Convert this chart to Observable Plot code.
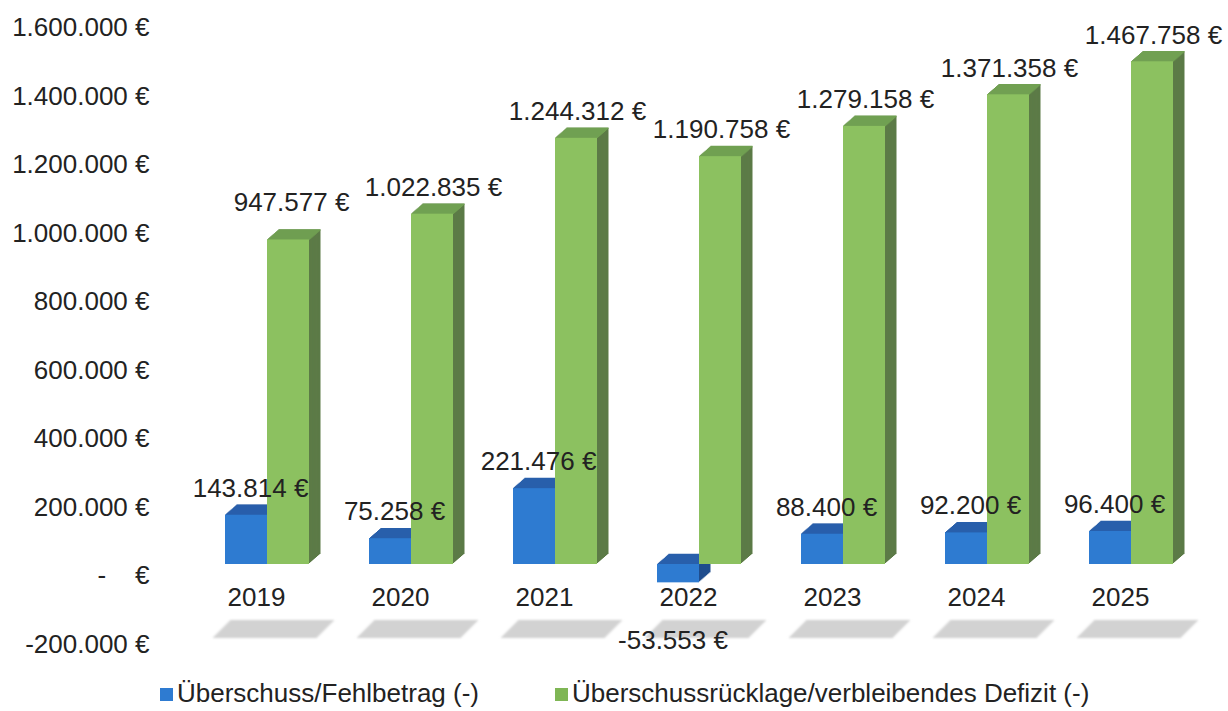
<!DOCTYPE html>
<html>
<head>
<meta charset="utf-8">
<script src="https://cdn.jsdelivr.net/npm/d3@7"></script>
<script src="https://cdn.jsdelivr.net/npm/@observablehq/plot@0.6"></script>
<style>
  body { margin: 0; background: #fff; }
  #wrap { position: relative; width: 1228px; height: 711px; font-family: "Liberation Sans", Arial, sans-serif; color: #222; }
  #chart svg g[aria-label="dot"] { filter: blur(1.2px); }
  .sw { position: absolute; width: 13px; height: 13px; }
  .lt { position: absolute; font-size: 26px; line-height: 30px; white-space: nowrap; color: #222; }
</style>
</head>
<body>
<div id="wrap">
  <div id="chart"></div>
  <span class="sw" style="left:160px;top:688px;background:#2e7bd1"></span>
  <span class="lt" style="left:177px;top:678px">Überschuss/Fehlbetrag (-)</span>
  <span class="sw" style="left:555px;top:688px;background:#7fb655"></span>
  <span class="lt" style="left:572px;top:678px">Überschussrücklage/verbleibendes Defizit (-)</span>
</div>
<script>
const years = ["2019", "2020", "2021", "2022", "2023", "2024", "2025"];
const ueberschuss = [143814, 75258, 221476, -53553, 88400, 92200, 96400];
const ruecklage = [947577, 1022835, 1244312, 1190758, 1279158, 1371358, 1467758];
const yTicks = [-200000, 0, 200000, 400000, 600000, 800000, 1000000, 1200000, 1400000, 1600000];

const blueData = years.map((year, i) => ({year, value: ueberschuss[i], i}));
const greenData = years.map((year, i) => ({year, value: ruecklage[i], i}));

const locale = d3.formatLocale({decimal: ",", thousands: ".", grouping: [3], currency: ["", " €"], minus: "-"});
const num = locale.format(",.0f");
const euro = v => num(v) + " €";
const axisFmt = v => v === 0 ? "-\u00a0\u00a0\u00a0\u00a0€" : euro(v);

const DEPTH = 10, SX = 1.15, SY = 1;
const HALF = 21;

function bar3d(data, off, front, top, side) {
  const marks = [];
  for (let k = DEPTH; k >= 1; k--) {
    marks.push(Plot.barY(data, {x: "year", y: "value", fill: side, dx: off + SX * k, dy: -SY * k}));
  }
  for (let k = DEPTH; k >= 0; k--) {
    marks.push(Plot.tickY(data, {x: "year", y: d => Math.max(0, d.value), stroke: top, strokeWidth: 1.6, dx: off + SX * k, dy: -SY * k}));
  }
  marks.push(Plot.barY(data, {x: "year", y: "value", fill: front, dx: off}));
  return marks;
}

const shadow = {
  draw(ctx) {
    ctx.moveTo(-42, -9);
    ctx.lineTo(62, -9);
    ctx.lineTo(44, 9);
    ctx.lineTo(-60, 9);
    ctx.closePath();
  }
};

const chart = Plot.plot({
  width: 1228,
  height: 670,
  marginTop: 16,
  marginBottom: 37.5,
  marginLeft: 192.75,
  marginRight: 23.75,
  style: {fontFamily: '"Liberation Sans", Arial, sans-serif', fontSize: "26px", color: "#222", background: "#fff"},
  x: {type: "band", domain: years, paddingInner: 0.7093, paddingOuter: 0.3547, axis: null},
  y: {domain: [-200000, 1600000], axis: null},
  marks: [
    Plot.dot(years, {x: d => d, frameAnchor: "bottom", dy: -4, dx: 5, symbol: shadow, fill: "#d2d2d2", stroke: "none"}),
    ...bar3d(blueData, -HALF, "#2e7bd1", "#285fab", "#1f4d8d"),
    ...bar3d(greenData, HALF, "#8cc160", "#71a052", "#5c7b47"),
    Plot.axisY({ticks: yTicks, tickFormat: axisFmt, tickSize: 0, tickPadding: 43.75, dy: 11.5, fill: "#222", label: null}),
    Plot.text(years, {x: d => d, text: d => d, frameAnchor: "bottom", dy: -27.5, dx: -11, fill: "#222"}),
    Plot.text(blueData.filter(d => d.value >= 0), {x: "year", y: "value", text: d => euro(d.value), dx: -HALF + 4, dy: -27, fill: "#222"}),
    Plot.text(blueData.filter(d => d.value < 0), {x: "year", y: "value", text: d => euro(d.value), dx: -HALF - 5.5, dy: 58, fill: "#222"}),
    Plot.text(greenData.filter(d => d.i === 0), {x: "year", y: "value", text: d => euro(d.value), dx: HALF + 3, dy: -37, fill: "#222"}),
    Plot.text(greenData.filter(d => d.i > 0), {x: "year", y: "value", text: d => euro(d.value), dx: HALF + 1, dy: -26.5, fill: "#222"})
  ]
});
document.getElementById("chart").appendChild(chart);
</script>
</body>
</html>
